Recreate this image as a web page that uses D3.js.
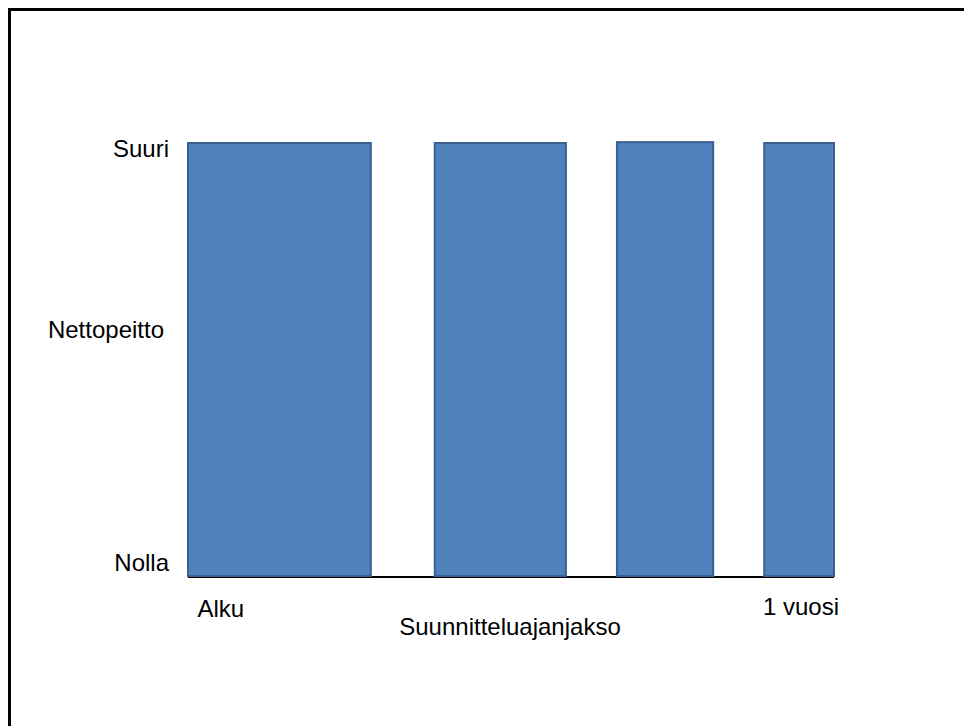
<!DOCTYPE html>
<html>
<head>
<meta charset="utf-8">
<script src="https://cdn.jsdelivr.net/npm/d3@7"></script>
<style>
  html, body { margin: 0; padding: 0; background: #fff; }
  svg { display: block; }
  text { font-family: "Liberation Sans", Arial, sans-serif; fill: #000; }
</style>
</head>
<body>
<svg id="chart" width="964" height="726"></svg>
<script>
// Planning periods along the year (0 = Alku, 100 = 1 vuosi)
const periodStart = [0, 38.2, 66.4, 89.2];
const periodEnd   = [28.3, 58.5, 81.3, 100];
// Net coverage per period (0 = Nolla, 1 = Suuri)
const coverage    = [1, 1, 1.002, 1];

const yTickValues = [0, 1];
const yTickLabels = ["Nolla", "Suuri"];
const yTitle = "Nettopeitto";
const xStartLabel = "Alku";
const xEndLabel = "1 vuosi";
const xTitle = "Suunnitteluajanjakso";

const svg = d3.select("#chart");

// Frame around the figure
svg.append("rect")
  .attr("x", 9.5).attr("y", 9.5)
  .attr("width", 1000).attr("height", 800)
  .attr("fill", "none")
  .attr("stroke", "#000")
  .attr("stroke-width", 3);

const x = d3.scaleLinear().domain([0, 100]).range([188, 834]);
const y = d3.scaleLinear().domain([0, 1]).range([576, 143]);

// Baseline
svg.append("line")
  .attr("x1", x(0)).attr("x2", x(100))
  .attr("y1", y(0) + 1).attr("y2", y(0) + 1)
  .attr("stroke", "#000")
  .attr("stroke-width", 2);

// Bars
const bars = periodStart.map((s, i) => ({ s, e: periodEnd[i], v: coverage[i] }));
svg.append("g").selectAll("rect")
  .data(bars)
  .join("rect")
  .attr("x", d => x(d.s))
  .attr("width", d => x(d.e) - x(d.s))
  .attr("y", d => y(d.v))
  .attr("height", d => y(0) - y(d.v))
  .attr("fill", "#4f81bd")
  .attr("stroke", "#3a6090")
  .attr("stroke-width", 2);

// Y tick labels
const fs = 24;
svg.append("g").selectAll("text")
  .data(yTickValues)
  .join("text")
  .attr("x", 169)
  .attr("y", d => d === 1 ? y(d) + 14 : y(d) - 5)
  .attr("text-anchor", "end")
  .attr("font-size", fs)
  .text((d, i) => yTickLabels[i]);

// Y title
svg.append("text")
  .attr("x", 164)
  .attr("y", y(0.5) - 21.5)
  .attr("text-anchor", "end")
  .attr("font-size", fs)
  .text(yTitle);

// X labels
svg.append("text")
  .attr("x", x(0) + 9.5)
  .attr("y", 617)
  .attr("font-size", fs)
  .text(xStartLabel);

svg.append("text")
  .attr("x", x(100) + 5)
  .attr("y", 615)
  .attr("text-anchor", "end")
  .attr("font-size", fs)
  .text(xEndLabel);

svg.append("text")
  .attr("x", x(50) - 1)
  .attr("y", 635)
  .attr("text-anchor", "middle")
  .attr("font-size", fs)
  .text(xTitle);
</script>
</body>
</html>
